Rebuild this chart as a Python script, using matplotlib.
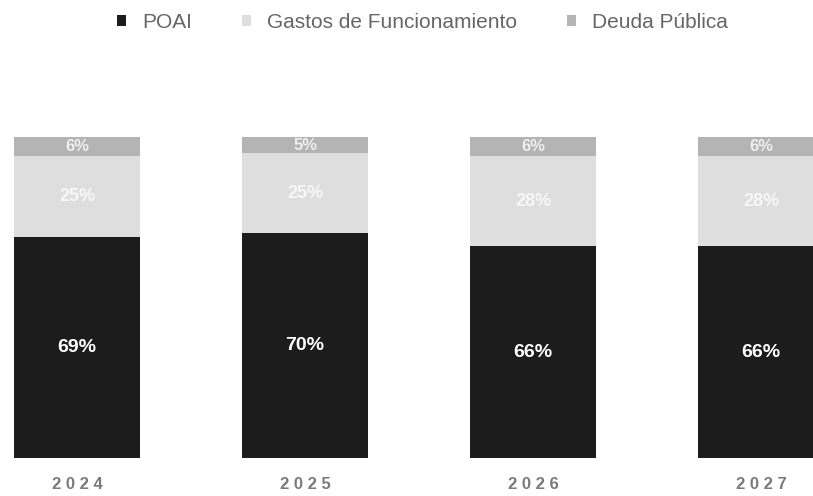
import matplotlib.pyplot as plt
import numpy as np

plt.rcParams['font.family'] = ['Liberation Sans', 'DejaVu Sans']

years = ['2024', '2025', '2026', '2027']
poai = [69, 70, 66, 66]
gastos = [25, 25, 28, 28]
deuda = [6, 5, 6, 6]

series = ['POAI', 'Gastos de Funcionamiento', 'Deuda Pública']
colores = ['#1c1c1c', '#dedede', '#b4b4b4']

fig = plt.figure(figsize=(8.13, 4.96), dpi=100)
ax = fig.add_axes([0, 38/496, 1, 321/496])

x = np.arange(len(years))
w = 0.555
b1 = ax.bar(x, poai, w, color=colores[0], label=series[0])
b2 = ax.bar(x, gastos, w, bottom=poai, color=colores[1], label=series[1])
base = np.array(poai) + np.array(gastos)
b3 = ax.bar(x, deuda, w, bottom=base, color=colores[2], label=series[2])

for i in range(len(years)):
    ax.text(x[i], poai[i] / 2, f'{poai[i]}%', ha='center', va='center',
            color='white', fontsize=14, fontweight='bold')
    ax.text(x[i], poai[i] + gastos[i] / 2, f'{gastos[i]}%', ha='center', va='center',
            color='#f8f8f8', fontsize=13, fontweight='bold')
    ax.text(x[i], base[i] + deuda[i] / 2, f'{deuda[i]}%', ha='center', va='center',
            color='#f0f0f0', fontsize=12, fontweight='bold')

ax.set_xlim(-0.338, 3.228)
ax.set_ylim(0, 100)
ax.set_xticks(x)
ax.set_xticklabels([' '.join(y) for y in years], fontsize=12, color='#7a7a7a', fontweight='bold')
ax.tick_params(axis='x', length=0, pad=14)
ax.set_yticks([])
for s in ax.spines.values():
    s.set_visible(False)

fig.legend(handles=[b1, b2, b3], labels=series, loc='center', bbox_to_anchor=(0.52, 0.955),
           ncol=3, frameon=False, fontsize=15, labelcolor='#666666',
           handlelength=0.4, handleheight=0.4, columnspacing=2.4, handletextpad=0.8)

fig.savefig('out.png', dpi=100)
